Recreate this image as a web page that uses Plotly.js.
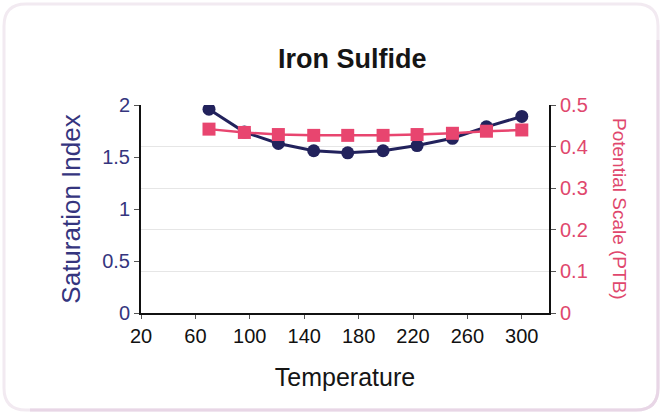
<!DOCTYPE html>
<html>
<head>
<meta charset="utf-8">
<script src="https://cdn.plot.ly/plotly-3.0.1.min.js"></script>
<style>
  html, body { margin: 0; padding: 0; background: #ffffff; }
  #chart { width: 664px; height: 420px; }
</style>
</head>
<body>
<div id="chart"></div>
<script>
// Data
const temperature = [70, 96, 121, 147, 172, 198, 223, 249, 274, 300];
const saturationIndex = [1.96, 1.74, 1.63, 1.56, 1.54, 1.56, 1.61, 1.68, 1.79, 1.89];
const potentialScale = [0.442, 0.434, 0.429, 0.427, 0.427, 0.427, 0.429, 0.432, 0.437, 0.440];
const xTicks = [20, 60, 100, 140, 180, 220, 260, 300];
const leftTicks = [0, 0.5, 1, 1.5, 2];
const rightTicks = [0, 0.1, 0.2, 0.3, 0.4, 0.5];

const FONT = "Liberation Sans, Arial, sans-serif";
const NAVY = "#22225c";
const NAVY_TXT = "#35357e";
const PINK = "#e8456f";
const PINK_TXT = "#e0476d";

const traces = [
  {
    x: temperature, y: potentialScale, yaxis: "y2", type: "scatter", mode: "lines+markers",
    name: "Potential Scale (PTB)",
    line: { color: PINK, width: 2.5 },
    marker: { symbol: "square", size: 13, color: PINK }
  },
  {
    x: temperature, y: saturationIndex, type: "scatter", mode: "lines+markers",
    name: "Saturation Index",
    line: { color: NAVY, width: 3 },
    marker: { symbol: "circle", size: 13, color: NAVY }
  }
];

const layout = {
  width: 664, height: 420,
  margin: { l: 141, r: 115, t: 105, b: 107, pad: 0 },
  paper_bgcolor: "#ffffff",
  plot_bgcolor: "rgba(0,0,0,0)",
  showlegend: false,
  font: { family: FONT, size: 20, color: "#111111" },
  title: {
    text: "Iron Sulfide",
    font: { family: FONT, size: 27, color: "#151515", weight: "bold" },
    x: 0.518, xanchor: "center", xref: "paper",
    y: 1 - 59 / 420, yanchor: "middle", yref: "container"
  },
  xaxis: {
    range: [20, 320], tickvals: xTicks, ticktext: xTicks.map(String),
    showgrid: false, zeroline: false,
    showline: true, linecolor: "#111111", linewidth: 2,
    ticks: "outside", ticklen: 4, tickcolor: "#555555", tickwidth: 1,
    tickfont: { family: FONT, size: 20, color: "#111111" },
    title: { text: "Temperature", font: { family: FONT, size: 25, color: "#151515" }, standoff: 22 }
  },
  yaxis: {
    range: [0, 2], tickvals: leftTicks, ticktext: leftTicks.map(String),
    showgrid: false, zeroline: false,
    showline: true, linecolor: "#111111", linewidth: 2,
    ticks: "outside", ticklen: 5, tickcolor: "#555555", tickwidth: 1,
    tickfont: { family: FONT, size: 20, color: NAVY_TXT },
    title: { text: "Saturation Index", font: { family: FONT, size: 26, color: NAVY_TXT }, standoff: 14 }
  },
  yaxis2: {
    range: [0, 0.5], tickvals: rightTicks, ticktext: rightTicks.map(String),
    overlaying: "y", side: "right",
    showgrid: true, gridcolor: "#e6e6e6", gridwidth: 1, zeroline: false,
    showline: true, linecolor: "#111111", linewidth: 2,
    ticks: "outside", ticklen: 5, tickcolor: "#555555", tickwidth: 1,
    tickfont: { family: FONT, size: 20, color: PINK_TXT }
  },
  annotations: [
    {
      text: "Potential Scale (PTB)", textangle: 90,
      xref: "paper", yref: "paper",
      x: (620 - 141) / 408, y: (313 - 209) / 208,
      xanchor: "center", yanchor: "middle", showarrow: false,
      font: { family: FONT, size: 19, color: PINK_TXT }
    }
  ],
  shapes: []
};

// Rounded frame around the chart (paper coordinates computed from pixel positions)
const pw = 664 - 141 - 115, ph = 420 - 105 - 107;
function px(x) { return (x - 141) / pw; }
function py(y) { return (420 - 107 - y) / ph; }
function P(x, y) { return `${px(x)} ${py(y)}`; }
function roundRectPaper(x0, y0, x1, y1, r) {
  return `M ${P(x0 + r, y0)} L ${P(x1 - r, y0)} Q ${P(x1, y0)} ${P(x1, y0 + r)} L ${P(x1, y1 - r)} Q ${P(x1, y1)} ${P(x1 - r, y1)} L ${P(x0 + r, y1)} Q ${P(x0, y1)} ${P(x0, y1 - r)} L ${P(x0, y0 + r)} Q ${P(x0, y0)} ${P(x0 + r, y0)} Z`;
}
layout.shapes.push({
  type: "path", xref: "paper", yref: "paper", layer: "below",
  path: roundRectPaper(4, 4, 658, 410, 22),
  line: { color: "#f2eaf1", width: 3 }, fillcolor: "rgba(0,0,0,0)"
});
// stronger bottom-right edge
layout.shapes.push({
  type: "path", xref: "paper", yref: "paper", layer: "below",
  path: `M ${P(658, 40)} L ${P(658, 388)} Q ${P(658, 410)} ${P(636, 410)} L ${P(30, 410)}`,
  line: { color: "#e8d6e6", width: 3 }, fillcolor: "rgba(0,0,0,0)"
});

Plotly.newPlot("chart", traces, layout, { displayModeBar: false, staticPlot: true });
</script>
</body>
</html>
